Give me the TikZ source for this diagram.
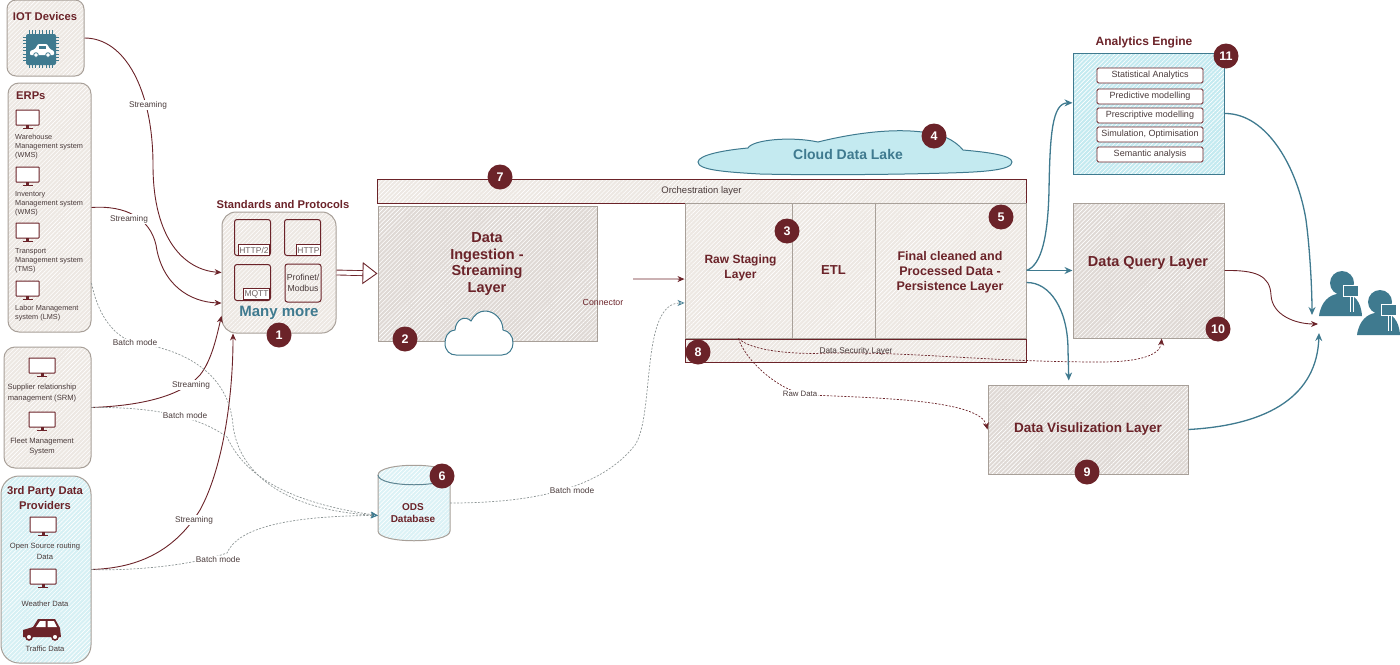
\documentclass[tikz,border=0pt]{standalone}
\usepackage{fontspec}
\setmainfont{Liberation Sans}
\usetikzlibrary{arrows.meta,patterns.meta}
\definecolor{wine}{HTML}{6B2329}
\definecolor{petrol}{HTML}{3F7A8F}
\definecolor{stone}{HTML}{A8A099}
\definecolor{sand}{HTML}{EDE8E3}
\definecolor{sandd}{HTML}{DFD9D5}
\definecolor{ice}{HTML}{C4EAF0}
\definecolor{smoke}{HTML}{8E9696}
\definecolor{ink}{HTML}{4A3B3B}
\newcommand{\fsz}[1]{\fontsize{#1}{#1}\selectfont}
\newcommand{\monitorat}[3]{%
  \draw[wine,line width=1pt,fill=white,rounded corners=0.5pt] (#1,#2) rectangle ++(#3,15);
  \fill[wine] (#1+#3/2-1.5,#2+15) rectangle ++(3,3);
  \fill[wine] (#1+#3/2-5,#2+18) rectangle ++(10,1.2);
}
\tikzset{
  hatch/.style={preaction={fill=#1},preaction={pattern={Lines[angle=45,distance=3pt,line width=0.6pt]},pattern color=white}},
  group/.style={draw=stone,line width=1pt,rounded corners=9pt,inner sep=0pt},
  layer/.style={draw=stone,line width=1pt,inner sep=0pt,align=center,text=wine,font=\bfseries\fsz{12.5}},
  band/.style={draw=wine,line width=1pt,hatch=sand,inner sep=0pt,text=ink,font=\fsz{9.5}},
  badge/.style={circle,fill=wine,text=white,inner sep=0pt,minimum size=25pt,font=\bfseries\fsz{12.5}},
  headtxt/.style={text=wine,font=\bfseries\fsz{11.2},inner sep=0pt,align=center},
  smalltxt/.style={text=ink,font=\fsz{7.3},inner sep=0pt,align=left},
  centretxt/.style={text=ink,font=\fsz{7.6},inner sep=0pt,align=center},
  proto/.style={draw=wine,line width=1pt,rounded corners=2.5pt,inner sep=0pt,minimum width=36pt,minimum height=36pt},
  prototag/.style={draw=wine,line width=0.8pt,fill=white,text=ink!80,font=\fsz{8.5},inner sep=1pt,minimum height=11pt},
  method/.style={draw=wine,line width=0.8pt,rounded corners=1.5pt,fill=white,text=ink,font=\fsz{9},inner sep=0pt,minimum width=106pt,minimum height=15pt},
  lbl/.style={fill=white,text=ink,font=\fsz{8.3},inner sep=1pt},
  feed/.style={draw=wine,line width=0.9pt,-{Stealth[length=7pt,width=6pt]}},
  output/.style={draw=petrol,line width=1.3pt,-{Stealth[length=8pt,width=7pt]}},
  batch/.style={draw=smoke,line width=0.7pt,dash pattern=on 2pt off 1.5pt,-{Stealth[length=7pt,width=6pt,open,petrol]}},
  secure/.style={draw=wine,line width=0.7pt,dash pattern=on 2pt off 1.5pt,-{Stealth[length=7pt,width=6pt]}}
}
\begin{document}
\begin{tikzpicture}[x=1pt,y=-1pt]
\useasboundingbox (0,0) rectangle (1400,664);

% sources on the left
\node[group,hatch=sand,minimum width=77pt,minimum height=76pt] (iot) at (45.5,38) {};
\node[group,hatch=sand,minimum width=83pt,minimum height=249pt,rounded corners=11pt] (erp) at (49.5,207.5) {};
\node[group,hatch=sand,minimum width=87pt,minimum height=121pt,rounded corners=11pt] (srm) at (47.5,407.5) {};
\node[group,hatch=ice!70,minimum width=90pt,minimum height=187pt,rounded corners=18pt] (third) at (46,569.5) {};

\node[headtxt] (iottitle) at (45,16) {IOT Devices};
\node[headtxt,anchor=west] (erptitle) at (16,96) {ERPs};
\node[headtxt] (thirdtitle) at (45,498) {3rd Party Data\\[3pt]Providers};

% chip with the car on it
\foreach \k in {0,...,7} {
  \draw[petrol,line width=0.8pt] (29+\k*3.4,30) -- ++(0,38);
  \draw[petrol,line width=0.8pt] (23,37+\k*3.4) -- ++(36,0);
}
\fill[petrol,rounded corners=2pt] (26,34) rectangle (56,65);
\fill[white,rounded corners=1pt] (30,55) -- (30,51) -- (35,49) -- (38,44) -- (47,44) -- (50,49) -- (54,51) -- (54,55) -- cycle;
\fill[petrol] (39,45.5) rectangle (46,49);
\draw[petrol,fill=white,line width=0.8pt] (36,55) circle (2.3) (48,55) circle (2.3);

% monitors
\foreach \my in {110,167,223,281} {
  \monitorat{16}{\my}{23}
}
\foreach \my in {358,412} {
  \monitorat{29}{\my}{26}
}
\foreach \my in {517,569} {
  \monitorat{30}{\my}{26}
}

\node[smalltxt,anchor=north west] (wms) at (15,134) {Warehouse\\[1.7pt]Management system\\[1.7pt](WMS)};
\node[smalltxt,anchor=north west] (ims) at (15,191) {Inventory\\[1.7pt]Management system\\[1.7pt](WMS)};
\node[smalltxt,anchor=north west] (tms) at (15,248) {Transport\\[1.7pt]Management system\\[1.7pt](TMS)};
\node[smalltxt,anchor=north west] (lms) at (15,305) {Labor Management\\[1.7pt]system (LMS)};
\node[centretxt] (srmtxt) at (42,393) {Supplier relationship\\[3pt]management (SRM)};
\node[centretxt] (fleettxt) at (42,446.5) {Fleet Management\\[3pt]System};
\node[centretxt] (opentxt) at (45,551) {Open Source routing\\[3pt]Data};
\node[centretxt] (weathertxt) at (45,604) {Weather Data};
\node[centretxt] (traffictxt) at (45,649) {Traffic Data};

% car
\fill[wine] (23,637) -- (23,630) -- (33,627) -- (38,619) -- (55,619) -- (60,628) -- (61,637) -- cycle;
\fill[white] (40,621) -- (45.5,621) -- (45.5,627) -- (36,627) -- cycle (47.5,621) -- (54,621) -- (57,627) -- (47.5,627) -- cycle;
\foreach \wx in {29,55} {
  \draw[wine,line width=1.5pt,fill=white] (\wx,637) circle (3);
}

% standards and protocols
\node[group,hatch=sand,minimum width=114pt,minimum height=121pt,rounded corners=14pt] (std) at (279,272.5) {};
\node[headtxt] (stdtitle) at (283,204) {Standards and Protocols};
\node[proto] (boxa) at (252.5,237.5) {};
\node[proto] (boxb) at (302.5,237.5) {};
\node[proto] (boxc) at (252.5,282.5) {};
\node[proto,align=center,text=ink,font=\fsz{8.7},minimum height=38pt] (boxd) at (303,283) {Profinet/\\[2pt]Modbus};
\node[prototag,anchor=south east] (taga) at (270,256) {HTTP/2};
\node[prototag,anchor=south east] (tagb) at (321,256) {HTTP};
\node[prototag,anchor=south east] (tagc) at (270,300) {MQTT};
\node[text=petrol,font=\bfseries\fsz{15},inner sep=0pt] (manytxt) at (279,313) {Many more};

% layers in the middle
\node[layer,hatch=sandd,minimum width=219pt,minimum height=135pt] (ingest) at (487.5,273.5) {};
\node[text=wine,font=\bfseries\fsz{14.5},inner sep=0pt,align=center] (ingesttxt) at (487,264) {Data\\[2pt]Ingestion -\\[2pt]Streaming\\[2pt]Layer};
\node[text=wine,font=\fsz{8.8},inner sep=0pt] (conntxt) at (603,302) {Connector};
\draw[petrol,line width=1pt,fill=white] (455,330) .. controls (447,331) and (445,338) .. (445,343) .. controls (445,351) and (450,355) .. (456,355) -- (502,355) .. controls (509,355) and (513,349) .. (513,343) .. controls (513,336) and (509,331) .. (503,330) .. controls (503,319) and (494,311) .. (485,311) .. controls (479,311) and (474,315) .. (471,321) .. controls (465,315) and (456,319) .. (455,330) -- cycle;

\node[band,minimum width=649pt,minimum height=24pt] (orch) at (701.5,191) {Orchestration layer};
\node[layer,hatch=sand,minimum width=107pt,minimum height=135pt] (raw) at (738.5,270.5) {};
\node[layer,hatch=sand,font=\bfseries\fsz{13},minimum width=83pt,minimum height=135pt] (etl) at (833.5,270.5) {ETL};
\node[layer,hatch=sand,minimum width=151pt,minimum height=135pt] (final) at (950.5,270.5) {};
\node[text=wine,font=\bfseries\fsz{12},inner sep=0pt,align=center] (rawlbl) at (740.5,268) {Raw Staging\\[3pt]Layer};
\node[text=wine,font=\bfseries\fsz{12.5},inner sep=0pt,align=center] (finallbl) at (950,272) {Final cleaned and\\[2.5pt]Processed Data -\\[2.5pt]Persistence Layer};
\node[band,minimum width=341pt,minimum height=23pt] (sec) at (855.5,350.5) {};

% cloud data lake
\draw[petrol,line width=1pt,fill=ice] (698,162) .. controls (698,155) and (725,150) .. (748,148) .. controls (752,140) and (790,136) .. (818,142) .. controls (850,134) and (890,128) .. (922,132) .. controls (940,133) and (955,140) .. (963,150) .. controls (985,152) and (1012,155) .. (1012,162) .. controls (1012,170) and (985,172) .. (948,173) .. controls (880,175) and (800,175) .. (760,174) .. controls (725,172) and (698,170) .. (698,162) -- cycle;
\node[text=petrol,font=\bfseries\fsz{14},inner sep=0pt] (laketxt) at (848,154) {Cloud Data Lake};

% layers on the right
\node[layer,draw=petrol,hatch=ice,minimum width=151pt,minimum height=121pt] (analytics) at (1148.5,113.5) {};
\node[headtxt,font=\bfseries\fsz{12}] (analyticstitle) at (1144,42) {Analytics Engine};
\node[method] (stat) at (1150,75.5) {Statistical Analytics};
\node[method] (pred) at (1150,96.5) {Predictive modelling};
\node[method] (presc) at (1150,115.5) {Prescriptive modelling};
\node[method] (simu) at (1150,134.5) {Simulation, Optimisation};
\node[method] (sema) at (1150,154.5) {Semantic analysis};

\node[layer,hatch=sandd,minimum width=151pt,minimum height=135pt] (query) at (1148.5,270.5) {};
\node[layer,hatch=sandd,font=\bfseries\fsz{13.5},minimum width=200pt,minimum height=89pt] (viz) at (1088,429.5) {Data Visulization Layer};
\node[text=wine,font=\bfseries\fsz{14.5},inner sep=0pt] (querytxt) at (1148,263) {Data Query Layer};

% database
\draw[stone,line width=1pt,hatch=ice!60] (378,475) .. controls (378,462) and (450,462) .. (450,475) -- (450,531) .. controls (450,544) and (378,544) .. (378,531) -- cycle;
\draw[petrol!70!stone,line width=1pt] (378,475) .. controls (378,488) and (450,488) .. (450,475);
\node[inner sep=0pt,minimum width=72pt,minimum height=76pt] (ods) at (414,503) {};
\node[text=wine,font=\bfseries\fsz{10},inner sep=0pt,align=center] (odstxt) at (413,513) {ODS\\[2pt]Database};

% users
\foreach \px/\py in {1342/283,1380/302} {
  \fill[petrol] (\px-23,\py+33) .. controls (\px-21,\py+18) and (\px-12,\py+12) .. (\px-5,\py+11) -- (\px+5,\py+11) .. controls (\px+12,\py+12) and (\px+19,\py+18) .. (\px+20,\py+33) -- cycle;
  \fill[petrol] (\px,\py) circle (12);
  \draw[white,line width=0.7pt,fill=petrol] (\px+1,\py+2) rectangle ++(15,11);
  \draw[white,line width=0.7pt] (\px+8,\py+13) -- ++(0,16) (\px+11,\py+13) -- ++(0,16);
}
\coordinate (usertop) at (1312,315);
\coordinate (userleft) at (1318,324);
\coordinate (userlow) at (1319,333);
\coordinate (connstart) at (633,279);

% connectors into the protocols
\draw[feed] (iot.east) .. controls (125,38) and (153,90) .. (153,165) .. controls (153,240) and (185,270) .. (std.west);
\draw[feed] (erp.east) .. controls (125,205) and (150,218) .. (156,245) .. controls (162,285) and (190,302) .. (std.208);
\draw[feed] (srm.east) .. controls (135,406) and (180,398) .. (200,375) .. controls (212,360) and (217,335) .. (std.217);
\draw[feed] (third.east) .. controls (140,568) and (175,550) .. (200,510) .. controls (222,470) and (233,400) .. (std.233);
\draw[wine,line width=0.9pt,double=white,double distance=4pt,-{Triangle[open,length=15pt,width=22pt,fill=white]}] (std.east) -- (ingest.west);

% batch lines
\draw[batch] (erp.-61) .. controls (97,310) and (110,335) .. (135,343) .. controls (170,347) and (228,365) .. (233,425) .. controls (238,470) and (280,510) .. (ods.199);
\draw[batch] (srm.east) .. controls (130,407) and (190,410) .. (227,437) .. controls (240,465) and (270,500) .. (ods.199);
\draw[batch] (third.east) .. controls (130,571) and (190,566) .. (227,553) .. controls (237,530) and (280,516) .. (ods.199);
\draw[batch] (ods.0) .. controls (530,503) and (600,490) .. (635,445) .. controls (655,415) and (640,303) .. (raw.211);

% from the connector and the layers
\draw[feed] (connstart) -- (raw.189);
\draw[secure] (raw.south) .. controls (745,360) and (780,393) .. (810,395) .. controls (880,398) and (980,400) .. (viz.west);
\draw[secure] (raw.south) .. controls (750,350) and (790,355) .. (830,353) .. controls (920,352) and (990,362) .. (1100,362) .. controls (1130,362) and (1160,358) .. (query.281);
\draw[output] (final.east) .. controls (1042,265) and (1048,235) .. (1049,190) .. controls (1050,135) and (1052,103) .. (analytics.172);
\draw[output] (final.east) -- (query.west);
\draw[output,shorten >=4pt] (final.-9) .. controls (1050,282) and (1068,310) .. (1068,350) -- (viz.113);
\draw[output] (analytics.east) .. controls (1268,113) and (1298,170) .. (1306,220) .. controls (1310,250) and (1312,290) .. (usertop);
\draw[feed] (query.east) .. controls (1255,270) and (1270,275) .. (1271,295) .. controls (1272,315) and (1295,324) .. (userleft);
\draw[output] (viz.east) .. controls (1270,425) and (1317,395) .. (userlow);

% labels on the lines
\node[lbl] (streama) at (148,105) {Streaming};
\node[lbl] (streamb) at (129,219) {Streaming};
\node[lbl] (streamc) at (191,385) {Streaming};
\node[lbl] (streamd) at (194,520) {Streaming};
\node[lbl] (batcha) at (135,343) {Batch mode};
\node[lbl] (batchb) at (185,416) {Batch mode};
\node[lbl] (batchc) at (218,560) {Batch mode};
\node[lbl] (batchd) at (572,491) {Batch mode};
\node[lbl,font=\fsz{7.8}] (rawtxt) at (800,394) {Raw Data};
\node[lbl,fill=none] (sectxt) at (856,351) {Data Security Layer};

% numbers
\node[badge] (no1) at (279,335) {1};
\node[badge] (no2) at (405,339) {2};
\node[badge] (no3) at (787,231) {3};
\node[badge] (no4) at (934,136) {4};
\node[badge] (no5) at (1001,217) {5};
\node[badge] (no6) at (442,476) {6};
\node[badge] (no7) at (500,177) {7};
\node[badge] (no8) at (698,352) {8};
\node[badge] (no9) at (1087,472) {9};
\node[badge] (no10) at (1218,329) {10};
\node[badge] (no11) at (1226,56) {11};
\end{tikzpicture}
\end{document}
